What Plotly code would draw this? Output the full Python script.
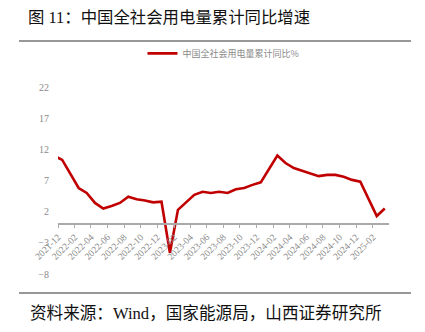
import pandas as pd
import plotly.graph_objects as go

# Cumulative YoY growth of China's total electricity consumption (%)
months = [
    "2021-11", "2021-12",
    "2022-02", "2022-03", "2022-04", "2022-05", "2022-06", "2022-07",
    "2022-08", "2022-09", "2022-10", "2022-11", "2022-12",
    "2023-01", "2023-02", "2023-03", "2023-04", "2023-05", "2023-06",
    "2023-07", "2023-08", "2023-09", "2023-10", "2023-11", "2023-12",
    "2024-02", "2024-03", "2024-04", "2024-05", "2024-06", "2024-07",
    "2024-08", "2024-09", "2024-10", "2024-11", "2024-12",
    "2025-02", "2025-03",
]
growth = [
    11.0, 10.3,
    5.8, 5.0, 3.4, 2.5, 2.9, 3.4,
    4.4, 4.0, 3.8, 3.5, 3.6,
    -4.6, 2.3, 3.5, 4.7, 5.2, 5.0,
    5.2, 5.0, 5.6, 5.8, 6.3, 6.7,
    11.0, 9.8, 9.0, 8.6, 8.1, 7.7,
    7.9, 7.9, 7.6, 7.1, 6.8,
    1.3, 2.5,
]

series_name = "中国全社会用电量累计同比%"
title_text = "图 11：中国全社会用电量累计同比增速"
source_text = "资料来源：Wind，国家能源局，山西证券研究所"

tick_dates = pd.date_range("2021-12-01", "2025-02-01", freq="2MS")
tick_labels = [d.strftime("%Y-%m") for d in tick_dates]

y_min, y_max = -8, 22

fig = go.Figure()
fig.add_trace(go.Scatter(
    x=months,
    y=growth,
    xperiod="M1",
    xperiodalignment="middle",
    mode="lines",
    name=series_name,
    line=dict(color="#C00000", width=2.6),
))

cjk = "Liberation Serif, Noto Sans CJK SC"
grey = "#8a8a8a"

fig.update_layout(
    width=425,
    height=332,
    margin=dict(l=58, r=36, t=87, b=58),
    paper_bgcolor="white",
    plot_bgcolor="white",
    showlegend=True,
    legend=dict(
        orientation="h",
        x=0.5, xanchor="center",
        y=1.18, yanchor="middle",
        font=dict(family="Noto Sans CJK SC", size=9, color=grey),
        itemwidth=30,
        bgcolor="rgba(0,0,0,0)",
    ),
    title=dict(
        text=title_text,
        x=28 / 425, xanchor="left", xref="container",
        y=1 - 17 / 332, yanchor="middle", yref="container",
        font=dict(family=cjk, size=16.4, color="#111111"),
    ),
)

fig.update_xaxes(
    type="date",
    range=["2021-12-01", "2025-04-01"],
    tickvals=list(tick_dates),
    ticktext=tick_labels,
    tickangle=-45,
    ticks="outside",
    ticklen=3,
    tickcolor="#aaaaaa",
    showline=True,
    linecolor="#aaaaaa",
    linewidth=1.5,
    showgrid=False,
    zeroline=False,
    anchor="free",
    position=(0 - y_min) / (y_max - y_min),
    tickfont=dict(family="Liberation Serif", size=9.5, color=grey),
)

fig.update_yaxes(
    range=[y_min, y_max],
    tick0=y_min,
    dtick=5,
    showgrid=False,
    zeroline=False,
    showline=False,
    ticks="",
    ticklabelstandoff=8,
    tickfont=dict(family="Liberation Serif", size=10, color=grey),
)

# Header and footer rules plus the source note
plot_w = 425 - 58 - 36
plot_h = 332 - 87 - 58
def px_x(px):
    return (px - 58) / plot_w
def px_y(py):
    return (332 - 58 - py) / plot_h

for yy in (41, 293):
    fig.add_shape(
        type="line", xref="paper", yref="paper",
        x0=px_x(19), x1=px_x(411), y0=px_y(yy), y1=px_y(yy),
        line=dict(color="#333333", width=1.2),
    )

fig.add_annotation(
    text=source_text,
    xref="paper", yref="paper",
    x=px_x(28), y=px_y(313),
    xanchor="left", yanchor="middle",
    showarrow=False,
    font=dict(family=cjk, size=16.6, color="#111111"),
)

fig.write_html("out.html")
